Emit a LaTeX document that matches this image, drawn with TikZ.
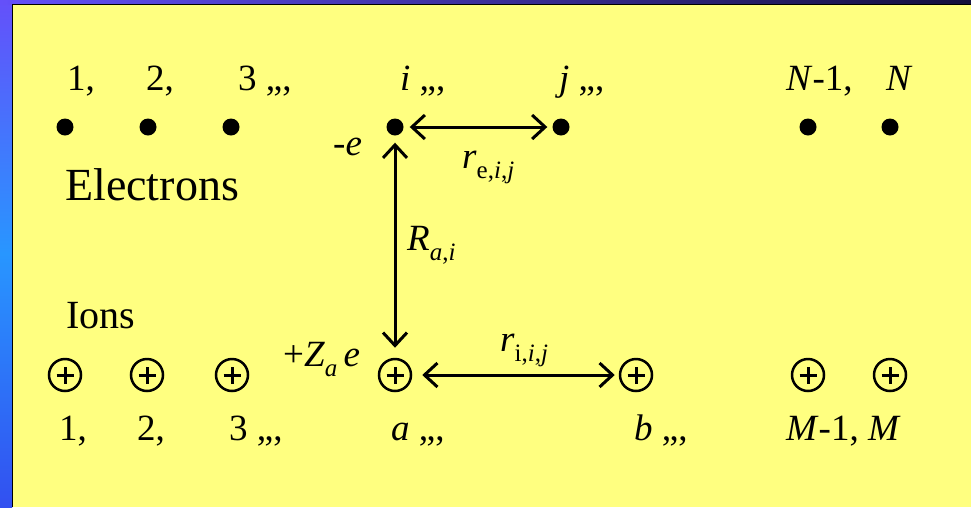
\documentclass[tikz,border=0pt]{standalone}
\usepackage{fontspec}
\setmainfont{Liberation Serif}
\usetikzlibrary{arrows.meta}
\definecolor{bgyellow}{RGB}{255,255,128}
\definecolor{bluetop}{RGB}{100,80,250}
\definecolor{bluemid}{RGB}{40,150,255}
\definecolor{bluebot}{RGB}{50,80,240}
\definecolor{navy}{RGB}{20,15,60}
\newcommand{\mysub}[1]{\raisebox{-0.28em}{\fontsize{25}{27}\selectfont #1}}
\begin{document}
\begin{tikzpicture}[x=1pt,y=-1pt,
  lbl/.style={anchor=base west, inner sep=0pt, font=\fontsize{37}{42}\selectfont},
  edot/.style={circle, fill=black, inner sep=0pt, minimum size=17pt},
  ion/.style={circle, draw=black, line width=2.5pt, inner sep=0pt, minimum size=32pt,
    path picture={\draw[line width=3pt] ([xshift=-8.5pt]path picture bounding box.center) -- ([xshift=8.5pt]path picture bounding box.center);
                  \draw[line width=3pt] ([yshift=-8.5pt]path picture bounding box.center) -- ([yshift=8.5pt]path picture bounding box.center);}},
  arr/.style={line width=3pt, {Straight Barb[length=13pt,width=24pt]}-{Straight Barb[length=13pt,width=24pt]}}
]
\useasboundingbox (0,0) rectangle (971,507);
% background frame
\shade[top color=bluetop, bottom color=bluebot, middle color=bluemid] (0,0) rectangle (12,507);
\shade[left color=bluetop, right color=navy] (0,0) rectangle (971,4);
\fill[bgyellow] (12,4) rectangle (971,507);
\draw[black, line width=1pt] (12,507) -- (12,4) -- (971,4);

% electrons
\node[edot] (e1) at (65,127) {};
\node[edot] (e2) at (148,127) {};
\node[edot] (e3) at (231,127) {};
\node[edot] (ei) at (395,127) {};
\node[edot] (ej) at (561,127) {};
\node[edot] (eN1) at (808,127) {};
\node[edot] (eN) at (890,127) {};

% ions
\node[ion] (i1) at (65,375) {};
\node[ion] (i2) at (147,375) {};
\node[ion] (i3) at (232,375) {};
\node[ion] (ia) at (395,375) {};
\node[ion] (ib) at (636,375) {};
\node[ion] (iM1) at (808,375) {};
\node[ion] (iM) at (890,375) {};

% top labels
\node[lbl] (t1) at (67,90) {1,};
\node[lbl] (t2) at (146,90) {2,};
\node[lbl] (t3) at (238,90) {3 ,,,};
\node[lbl] (ti) at (400,90) {\textit{i} ,,,};
\node[lbl] (tj) at (559,90) {\textit{j} ,,,};
\node[lbl] (tN1) at (786,90) {\textit{N}-1,};
\node[lbl] (tN) at (886,90) {\textit{N}};

% bottom labels
\node[lbl] (b1) at (59,440) {1,};
\node[lbl] (b2) at (137,440) {2,};
\node[lbl] (b3) at (229,440) {3 ,,,};
\node[lbl] (ba) at (391,440) {\textit{a} ,,,};
\node[lbl] (bb) at (634,440) {\textit{b} ,,,};
\node[lbl] (bM) at (786,440) {\textit{M}-1, \textit{M}};

% other labels
\node[lbl] (charge-e) at (333,155) {-\textit{e}};
\node[lbl] (rlab) at (462,168) {\textit{r}\mysub{e,\textit{i},\textit{j}}};
\node[lbl, font=\fontsize{46}{50}\selectfont] (elec) at (65,200) {Electrons};
\node[lbl] (Rlab) at (407,250) {\textit{R}\mysub{\textit{a},\textit{i}}};
\node[lbl, font=\fontsize{40}{44}\selectfont] (ions) at (66,328) {Ions};
\node[lbl] (Zlab) at (283,366) {+\textit{Z}\mysub{\textit{a}}\,\textit{e}};
\node[lbl] (rilab) at (500,351) {\textit{r}\mysub{i,\textit{i},\textit{j}}};

% connectors
\draw[arr, shorten <=6pt, shorten >=5pt] (ei) -- (ej);
\draw[arr, shorten <=7pt, shorten >=10pt] (ei) -- (ia);
\draw[arr, shorten <=10pt, shorten >=4pt] (ia) -- (ib);
\end{tikzpicture}
\end{document}
